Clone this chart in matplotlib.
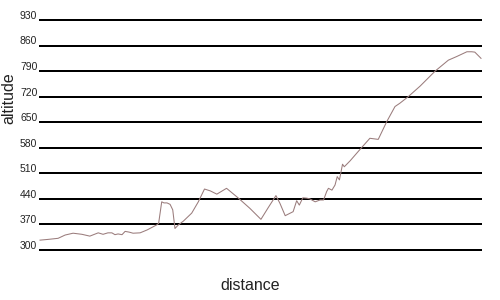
import matplotlib
matplotlib.use("Agg")
import matplotlib.pyplot as plt
from matplotlib.transforms import blended_transform_factory

distance = [0, 1.8, 4.1, 5.7, 7.5, 9.5, 11.3, 13.2, 14.3, 15.4, 16.3, 17.0, 17.7, 18.6,
            19.3, 20.2, 21.1, 22.7, 24.3, 25.4, 26.5, 26.9, 27.6, 28.1, 28.8, 29.5, 30.1,
            30.6, 31.4, 32.5, 34.4, 35.9, 37.3, 38.6, 40.1, 42.3, 45.0, 47.6, 50.1, 51.8,
            53.5, 54.4, 55.6, 57.4, 58.2, 58.8, 59.6, 60.5, 61.2, 62.4, 63.5, 64.3, 65.0,
            65.4, 66.2, 66.9, 67.4, 67.9, 68.6, 69.0, 70.3, 72.6, 74.8, 76.7, 78.6, 80.5,
            81.6, 83.5, 86.2, 89.6, 91.1, 92.6, 94.5, 96.8, 97.9, 98.6, 100]
altitude = [327, 329, 332, 341, 346, 343, 338, 347, 343, 347, 347, 342, 344, 342,
            351, 349, 346, 347, 355, 362, 369, 373, 432, 429, 429, 425, 410,
            359, 369, 379, 401, 432, 467, 462, 453, 469, 442, 414, 384, 417,
            449, 428, 394, 405, 435, 423, 443, 442, 440, 432, 437, 437, 460,
            469, 464, 478, 501, 492, 535, 528, 544, 576, 606, 603, 651, 693,
            702, 720, 749, 790, 805, 820, 830, 843, 843, 842, 825]
yticks = [300, 370, 440, 510, 580, 650, 720, 790, 860, 930]

plt.rcParams['font.family'] = ['Liberation Sans', 'DejaVu Sans']

fig = plt.figure(figsize=(5, 3), dpi=100)
ax = fig.add_axes([0.08, 1 - 250 / 300, 0.882, 230 / 300])
ax.set_xlim(distance[0], distance[-1])
ax.set_ylim(yticks[0], yticks[-1])
for s in ax.spines.values():
    s.set_visible(False)
ax.set_xticks([])
ax.set_yticks([])

trans = blended_transform_factory(ax.transAxes, ax.transData)
for v in yticks:
    ax.axhline(v, color='black', lw=1.4, clip_on=False, antialiased=False, zorder=1)
    ax.text(-0.006, v + 3, str(v), transform=trans, ha='right', va='baseline',
            fontsize=7.5, color='#222222')

ax.plot(distance, altitude, color='#9a7c7c', lw=0.75, zorder=2, clip_on=False)

fig.text(250 / 500, 1 - 286 / 300, 'distance', ha='center', va='center', fontsize=11.5,
         color='#222222')
fig.text(9 / 500, 1 - 98 / 300, 'altitude', ha='center', va='center', rotation=90,
         fontsize=11.5, color='#222222')

fig.savefig('out.png', dpi=100)
